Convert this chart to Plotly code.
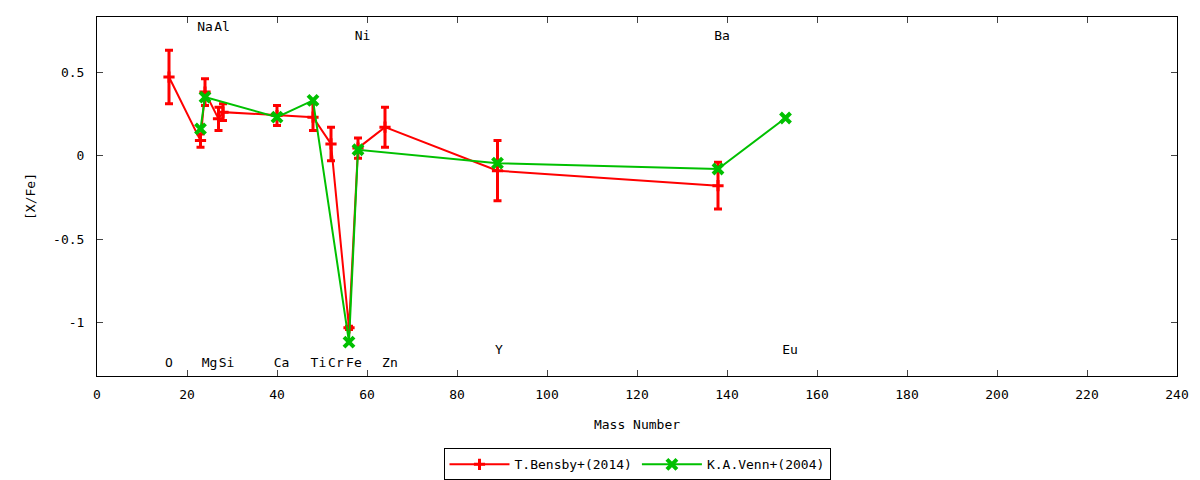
import plotly.graph_objects as go

# T.Bensby+(2014)
bensby_mass = [16, 23, 24, 27, 28, 40, 48, 52, 56, 58, 64, 89, 138]
bensby_val = [0.47, 0.09, 0.38, 0.22, 0.26, 0.24, 0.23, 0.07, -1.03, 0.045, 0.17, -0.09, -0.18]
bensby_err = [0.16, 0.04, 0.08, 0.07, 0.05, 0.06, 0.08, 0.10, 0.01, 0.06, 0.12, 0.18, 0.14]

# K.A.Venn+(2004)
venn_mass = [23, 24, 40, 48, 56, 58, 89, 138, 153]
venn_val = [0.16, 0.35, 0.23, 0.33, -1.115, 0.035, -0.045, -0.08, 0.225]

# element labels
elem_names = ["O", "Na", "Mg", "Al", "Si", "Ca", "Ti", "Cr", "Fe", "Ni", "Zn", "Y", "Ba", "Eu"]
elem_x = [16, 24, 25, 27.8, 28.8, 41, 49.2, 53.1, 57.1, 59, 65.1, 89.3, 138.9, 154]
elem_y = [-1.243, 0.765, -1.243, 0.765, -1.243, -1.243, -1.243, -1.243, -1.243, 0.708, -1.243, -1.165, 0.708, -1.165]

x_ticks = list(range(0, 241, 20))
y_ticks = [-1, -0.5, 0, 0.5]
y_ticktext = ["-1", "-0.5", "0", "0.5"]

RED = "#ff0000"
GREEN = "#00c000"
FONT = "DejaVu Sans Mono"

fig = go.Figure()

fig.add_trace(go.Scatter(
    x=elem_x, y=elem_y, text=elem_names, mode="text",
    textfont=dict(family=FONT, size=13, color="black"),
    showlegend=False, hoverinfo="skip",
))

fig.add_trace(go.Scatter(
    x=bensby_mass, y=bensby_val, name="T.Bensby+(2014)",
    mode="lines+markers",
    line=dict(color=RED, width=2),
    marker=dict(symbol="cross-thin", size=8, color=RED, line=dict(width=3, color=RED)),
    error_y=dict(type="data", array=bensby_err, visible=True, color=RED, thickness=3, width=4),
))

fig.add_trace(go.Scatter(
    x=venn_mass, y=venn_val, name="K.A.Venn+(2004)",
    mode="lines+markers",
    line=dict(color=GREEN, width=2),
    marker=dict(symbol="x-thin", size=10, color=GREEN, line=dict(width=4, color=GREEN)),
))

fig.update_layout(
    width=1192, height=472,
    margin=dict(l=89, r=23, t=9, b=104, autoexpand=False),
    paper_bgcolor="white", plot_bgcolor="white",
    font=dict(family=FONT, size=13, color="black"),
    showlegend=True,
    legend=dict(
        orientation="h", x=0.5, xanchor="center",
        yref="container", y=0.033, yanchor="middle",
        bordercolor="black", borderwidth=1, bgcolor="white",
        font=dict(family=FONT, size=13), itemwidth=60,
        tracegroupgap=0,
    ),
    xaxis=dict(
        range=[0, 240], tickvals=x_ticks, ticks="inside", ticklen=6,
        showline=True, linecolor="black", linewidth=1, mirror="allticks",
        showgrid=False, zeroline=False, ticklabelstandoff=6,
        title=dict(text="Mass Number", standoff=19, font=dict(family=FONT, size=13)),
    ),
    yaxis=dict(
        range=[-1.318, 0.829], tickvals=y_ticks, ticktext=y_ticktext,
        ticks="inside", ticklen=6,
        showline=True, linecolor="black", linewidth=1, mirror="allticks",
        showgrid=False, zeroline=False, ticklabelstandoff=9,
        title=dict(text="[X/Fe]", standoff=14, font=dict(family=FONT, size=13)),
    ),
)

fig.write_html("out.html")
